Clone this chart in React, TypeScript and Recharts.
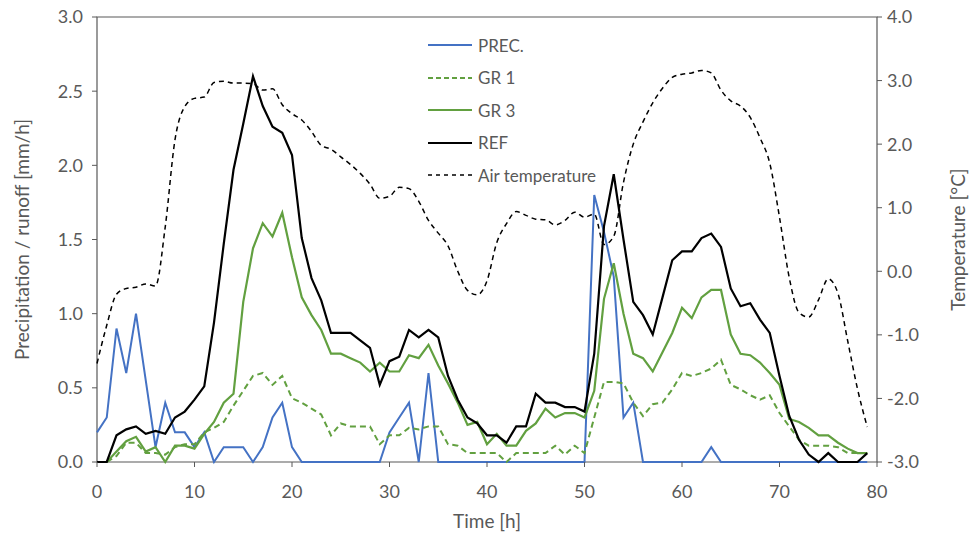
import React from "react";
import { LineChart, Line, XAxis, YAxis, ReferenceArea } from "recharts";

// hourly values, t = 0..79 h
const prec = [
  0.2, 0.3, 0.9, 0.6, 1.0, 0.55, 0.1, 0.4, 0.2, 0.2,
  0.1, 0.2, 0, 0.1, 0.1, 0.1, 0, 0.1, 0.3, 0.4,
  0.1, 0, 0, 0, 0, 0, 0, 0, 0, 0,
  0.2, 0.3, 0.4, 0, 0.6, 0, 0, 0, 0, 0,
  0, 0, 0, 0, 0, 0, 0, 0, 0, 0,
  0, 1.8, 1.55, 1.25, 0.3, 0.4, 0, 0, 0, 0,
  0, 0, 0, 0.1, 0, 0, 0, 0, 0, 0,
  0, 0, 0, 0, 0, 0, 0, 0, 0, 0,
];

const gr1 = [
  0, 0, 0.04, 0.13, 0.13, 0.06, 0.06, 0.05, 0.1, 0.12,
  0.12, 0.2, 0.23, 0.27, 0.38, 0.48, 0.58, 0.6, 0.52, 0.58,
  0.43, 0.4, 0.36, 0.32, 0.18, 0.26, 0.24, 0.24, 0.24, 0.12,
  0.18, 0.18, 0.23, 0.22, 0.24, 0.24, 0.12, 0.11, 0.06, 0.06,
  0.06, 0.06, 0, 0.06, 0.06, 0.06, 0.06, 0.11, 0.05, 0.11,
  0.06, 0.3, 0.54, 0.54, 0.53, 0.4, 0.31, 0.39, 0.4, 0.49,
  0.6, 0.58, 0.6, 0.63, 0.69, 0.52, 0.49, 0.45, 0.42, 0.45,
  0.33, 0.24, 0.15, 0.11, 0.11, 0.11, 0.1, 0.06, 0.06, 0.06,
];

const gr3 = [
  0, 0, 0.07, 0.14, 0.17, 0.07, 0.1, 0, 0.11, 0.11,
  0.09, 0.19, 0.27, 0.4, 0.46, 1.08, 1.44, 1.61, 1.52, 1.68,
  1.38, 1.11, 0.99, 0.89, 0.73, 0.73, 0.7, 0.67, 0.61, 0.67,
  0.61, 0.61, 0.72, 0.7, 0.79, 0.65, 0.53, 0.4, 0.25, 0.27,
  0.12, 0.19, 0.11, 0.11, 0.21, 0.26, 0.36, 0.3, 0.33, 0.33,
  0.3, 0.48, 1.1, 1.34, 1.0, 0.73, 0.7, 0.61, 0.74, 0.87,
  1.04, 0.97, 1.11, 1.16, 1.16, 0.86, 0.73, 0.72, 0.67, 0.6,
  0.52, 0.29, 0.27, 0.23, 0.18, 0.18, 0.13, 0.09, 0.06, 0.06,
];

const ref = [
  0, 0, 0.18, 0.22, 0.24, 0.19, 0.21, 0.19, 0.3, 0.34,
  0.42, 0.51, 0.94, 1.47, 1.97, 2.28, 2.6, 2.4, 2.26, 2.22,
  2.07, 1.51, 1.24, 1.09, 0.87, 0.87, 0.87, 0.82, 0.77, 0.52,
  0.68, 0.71, 0.89, 0.84, 0.89, 0.84, 0.58, 0.42, 0.3, 0.26,
  0.18, 0.18, 0.13, 0.24, 0.24, 0.46, 0.4, 0.4, 0.37, 0.37,
  0.34, 0.73, 1.59, 1.94, 1.5, 1.08, 0.99, 0.86, 1.11, 1.36,
  1.42, 1.42, 1.51, 1.54, 1.45, 1.17, 1.05, 1.07, 0.96, 0.87,
  0.58, 0.31, 0.15, 0.05, 0, 0.06, 0, 0, 0, 0.06,
];

const airTemp = [
  -1.45, -0.85, -0.36, -0.27, -0.25, -0.2, -0.23, 0.7, 2.07, 2.59,
  2.72, 2.74, 2.97, 2.99, 2.96, 2.96, 2.95, 2.85, 2.87, 2.62,
  2.48, 2.38, 2.2, 1.98, 1.92, 1.8, 1.68, 1.54, 1.37, 1.15,
  1.18, 1.32, 1.3, 1.1, 0.8, 0.6, 0.4, 0.0, -0.3, -0.37,
  -0.15, 0.45, 0.75, 0.94, 0.88, 0.82, 0.81, 0.73, 0.8, 0.93,
  0.85, 0.9, 0.42, 0.55, 1.4, 2.0, 2.35, 2.65, 2.88, 3.05,
  3.1, 3.12, 3.16, 3.12, 2.85, 2.68, 2.6, 2.42, 2.1, 1.7,
  0.85, -0.1, -0.65, -0.72, -0.45, -0.12, -0.35, -1.1, -1.85, -2.45,
];

const timeTicks = [0, 10, 20, 30, 40, 50, 60, 70, 80];
const runoffTicks = [0, 0.5, 1, 1.5, 2, 2.5, 3];
const tempTicks = [-3, -2, -1, 0, 1, 2, 3, 4];

const BLUE = "#4472C4";
const GREEN = "#62A040";
const TEXT = "#595959";
const FONT = "Lato, 'Open Sans', sans-serif";

const data = prec.map((p, i) => ({
  t: i,
  prec: p,
  gr1: gr1[i],
  gr3: gr3[i],
  ref: ref[i],
  temp: airTemp[i],
}));

const legendItems = [
  { name: "PREC.", color: BLUE, dash: undefined, w: 2 },
  { name: "GR 1", color: GREEN, dash: "5 3", w: 2 },
  { name: "GR 3", color: GREEN, dash: undefined, w: 2 },
  { name: "REF", color: "#000", dash: undefined, w: 2.2 },
  { name: "Air temperature", color: "#000", dash: "4 4", w: 1.5 },
];

// legend sits inside the plot area, drawn as an overlay
function LegendBox() {
  return (
    <div
      style={{
        position: "absolute",
        left: 425,
        top: 29,
        fontFamily: FONT,
        fontSize: 17,
        color: TEXT,
      }}
    >
      {legendItems.map((it) => (
        <div
          key={it.name}
          style={{ display: "flex", alignItems: "center", height: 32.5 }}
        >
          <svg width={50} height={10}>
            <line
              x1={3}
              x2={47}
              y1={5}
              y2={5}
              stroke={it.color}
              strokeWidth={it.w}
              strokeDasharray={it.dash}
            />
          </svg>
          <span style={{ marginLeft: 3, whiteSpace: "nowrap" }}>{it.name}</span>
        </div>
      ))}
    </div>
  );
}

const tickStyle = { fill: TEXT, fontSize: 18, fontFamily: FONT };

export default function App() {
  return (
    <div
      style={{
        position: "absolute",
        left: 0,
        top: 0,
        width: 971,
        height: 536,
        background: "#fff",
      }}
    >
      <LineChart
        width={971}
        height={536}
        data={data}
        margin={{ top: 17, right: 0, bottom: 0, left: 0 }}
      >
        <XAxis
          type="number"
          dataKey="t"
          domain={[0, 80]}
          ticks={timeTicks}
          height={74}
          tick={tickStyle}
          tickSize={5}
          tickMargin={18}
          axisLine={false}
          tickLine={{ stroke: TEXT }}
          label={{
            value: "Time [h]",
            position: "center",
            dy: 22,
            fill: TEXT,
            fontSize: 19,
            fontFamily: FONT,
          }}
        />
        <YAxis
          yAxisId="left"
          domain={[0, 3]}
          ticks={runoffTicks}
          width={97}
          tick={tickStyle}
          tickFormatter={(v) => Number(v).toFixed(1)}
          tickSize={5}
          tickMargin={9}
          axisLine={false}
          tickLine={{ stroke: TEXT }}
          label={{
            value: "Precipitation / runoff [mm/h]",
            angle: -90,
            position: "center",
            dx: -26,
            fill: TEXT,
            fontSize: 19,
            fontFamily: FONT,
          }}
        />
        <YAxis
          yAxisId="right"
          orientation="right"
          domain={[-3, 4]}
          ticks={tempTicks}
          width={94}
          tick={tickStyle}
          tickFormatter={(v) => Number(v).toFixed(1)}
          tickSize={5}
          tickMargin={5}
          axisLine={false}
          tickLine={{ stroke: TEXT }}
          label={{
            value: "Temperature [°C]",
            angle: -90,
            position: "center",
            dx: 34,
            fill: TEXT,
            fontSize: 19,
            fontFamily: FONT,
          }}
        />
        <ReferenceArea
          yAxisId="left"
          x1={0}
          x2={80}
          y1={0}
          y2={3}
          fill="none"
          stroke={TEXT}
          strokeWidth={1.2}
          ifOverflow="visible"
        />
        <Line
          yAxisId="left"
          dataKey="prec"
          name="PREC."
          stroke={BLUE}
          strokeWidth={2}
          dot={false}
          activeDot={false}
          isAnimationActive={false}
        />
        <Line
          yAxisId="left"
          dataKey="gr1"
          name="GR 1"
          stroke={GREEN}
          strokeWidth={2}
          strokeDasharray="6 4"
          dot={false}
          activeDot={false}
          isAnimationActive={false}
        />
        <Line
          yAxisId="left"
          dataKey="gr3"
          name="GR 3"
          stroke={GREEN}
          strokeWidth={2.2}
          dot={false}
          activeDot={false}
          isAnimationActive={false}
        />
        <Line
          yAxisId="left"
          dataKey="ref"
          name="REF"
          stroke="#000"
          strokeWidth={2.2}
          dot={false}
          activeDot={false}
          isAnimationActive={false}
        />
        <Line
          yAxisId="right"
          type="monotone"
          dataKey="temp"
          name="Air temperature"
          stroke="#000"
          strokeWidth={1.5}
          strokeDasharray="5 4"
          dot={false}
          activeDot={false}
          isAnimationActive={false}
        />
      </LineChart>
      <LegendBox />
    </div>
  );
}
